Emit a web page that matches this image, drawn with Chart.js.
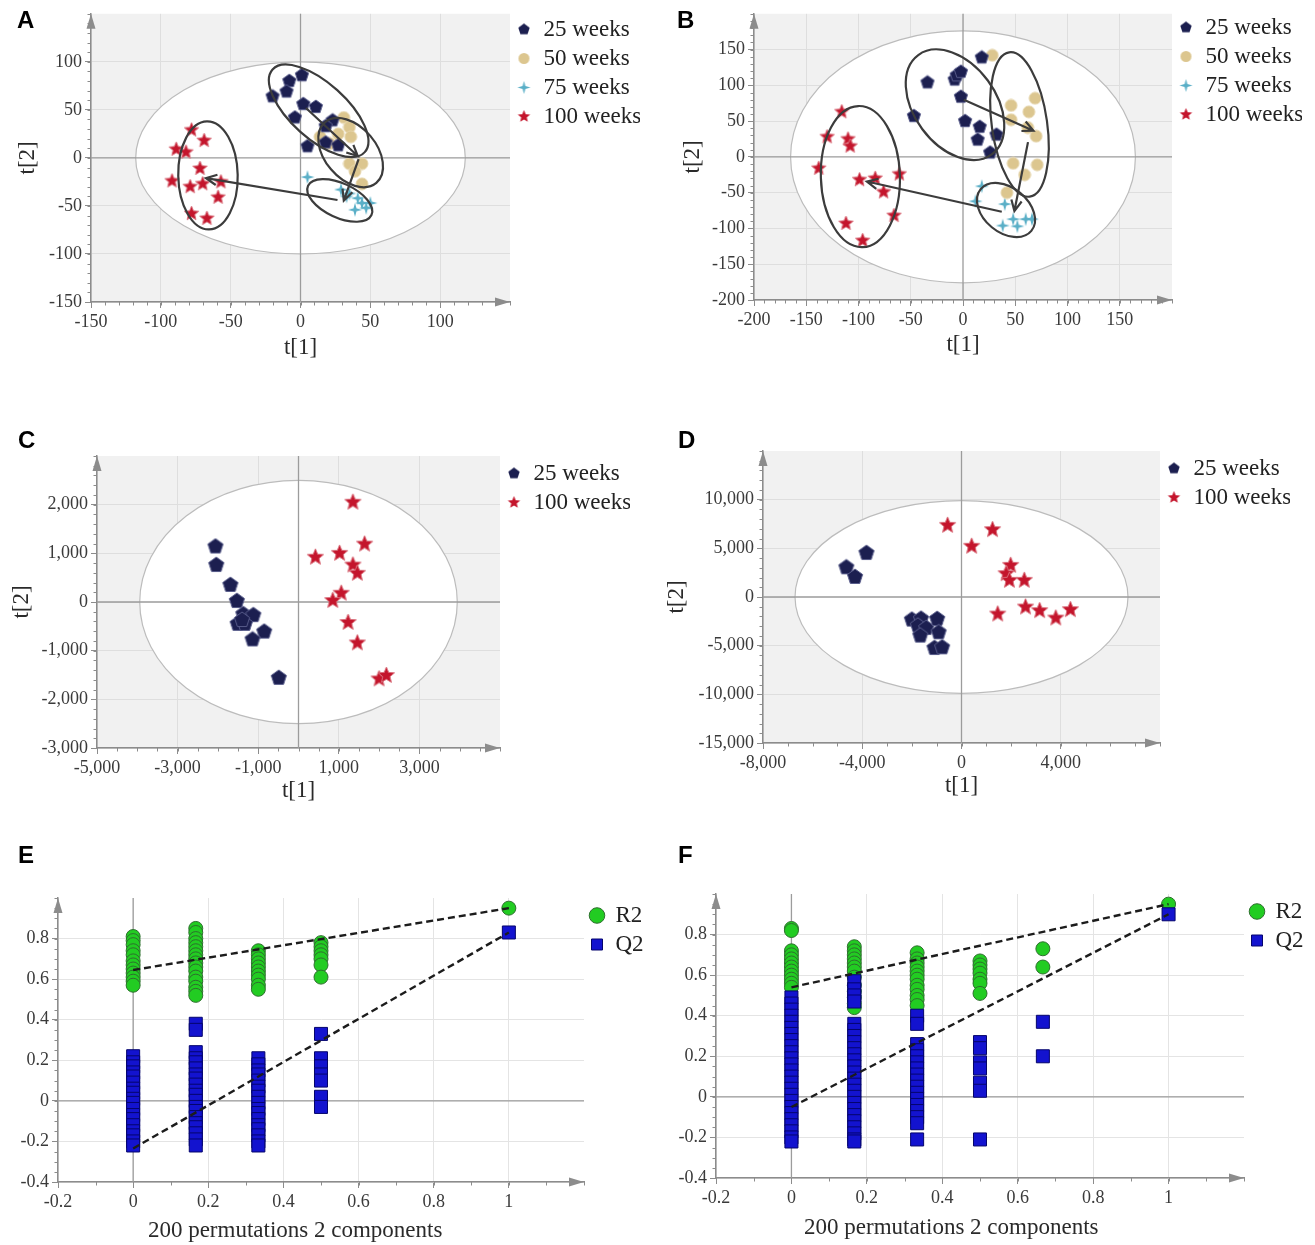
<!DOCTYPE html>
<html>
<head>
<meta charset="utf-8">
<script src="https://cdn.jsdelivr.net/npm/chart.js@4.4.1/dist/chart.umd.min.js"></script>
<style>
  body { margin: 0; background: #fff; width: 1315px; height: 1245px; position: relative; overflow: hidden; }
  .panel { position: absolute; }
  .tag { position: absolute; font: bold 24px 'Liberation Sans', Arial, sans-serif; line-height: 24px; color: #000; }
</style>
</head>
<body>
<div class="panel" style="left:0;top:0;width:660px;height:370px"><canvas id="chartA"></canvas></div>
<div class="panel" style="left:660px;top:0;width:655px;height:370px"><canvas id="chartB"></canvas></div>
<div class="panel" style="left:0;top:420px;width:660px;height:390px"><canvas id="chartC"></canvas></div>
<div class="panel" style="left:660px;top:420px;width:655px;height:390px"><canvas id="chartD"></canvas></div>
<div class="panel" style="left:0;top:840px;width:660px;height:405px"><canvas id="chartE"></canvas></div>
<div class="panel" style="left:660px;top:840px;width:655px;height:405px"><canvas id="chartF"></canvas></div>
<div class="tag" style="left:17px;top:8px">A</div>
<div class="tag" style="left:677px;top:8px">B</div>
<div class="tag" style="left:18px;top:428px">C</div>
<div class="tag" style="left:678px;top:428px">D</div>
<div class="tag" style="left:18px;top:843px">E</div>
<div class="tag" style="left:678px;top:843px">F</div>

<script>
// ---- data: score plots (t[1], t[2]) ----
const groups4 = ['25 weeks', '50 weeks', '75 weeks', '100 weeks'];
const groups2 = ['25 weeks', '100 weeks'];

const a25x = [-20, -8, -10, 1, 2, 11, -4, 23, 18, 5, 18, 27];
const a25y = [64, 80, 69, 86, 56, 53, 42, 39, 33, 12, 16, 13];
const a50x = [31, 35, 36, 27, 14, 21, 35, 44, 44, 39];
const a50y = [42, 32, 22, 25, 22, 15, -6, -6, -27, -14];
const a75x = [5, 29, 35, 41, 39, 47, 44, 50, 33];
const a75y = [-20, -33, -37, -42, -54, -52, -47, -47, -40];
const a100x = [-78, -69, -89, -82, -72, -92, -79, -70, -57, -59, -78, -67];
const a100y = [29, 18, 9, 6, -11, -24, -30, -27, -25, -41, -58, -63];

const b25x = [18, -34, -8, -6, -2, -2, -47, 2, 16, 14, 32, 26];
const b25y = [139, 104, 108, 114, 119, 84, 57, 50, 42, 24, 31, 6];
const b50x = [28, 46, 69, 63, 46, 62, 70, 48, 71, 59, 42];
const b50y = [142, 72, 82, 63, 52, 41, 29, -9, -11, -25, -50];
const b75x = [18, 12, 40, 48, 60, 38, 52, 66];
const b75y = [-41, -62, -66, -87, -87, -96, -97, -87];
const b100x = [-116, -130, -110, -108, -138, -61, -99, -84, -76, -66, -112, -96];
const b100y = [63, 28, 25, 15, -16, -24, -32, -30, -49, -82, -93, -117];

const c25x = [-2060, -2040, -1690, -1530, -1370, -1120, -1510, -1330, -1400, -850, -1140, -490];
const c25y = [1140, 760, 350, 20, -250, -270, -450, -450, -370, -610, -770, -1560];
const c100x = [1350, 420, 1020, 1640, 1350, 1460, 1060, 850, 1230, 1460, 2000, 2180];
const c100y = [2050, 920, 1000, 1190, 760, 590, 180, 30, -420, -840, -1580, -1510];

const d25x = [-3830, -4640, -4290, -2000, -1630, -1760, -1420, -1660, -980, -920, -1090, -780];
const d25y = [4520, 3050, 2060, -2330, -2230, -2950, -3190, -3970, -2260, -3630, -5240, -5170];
const d100x = [-560, 1250, 410, 1980, 1800, 1930, 2530, 2580, 3150, 1460, 3800, 4390];
const d100y = [7360, 6920, 5210, 3250, 2400, 1710, 1710, -1030, -1400, -1750, -2160, -1300];

// Hotelling T2 ellipse semi-axes (t[1], t[2])
const aT2 = [118, 100];
const bT2 = [165, 176];
const cT2 = [3940, 2500];
const dT2 = [6710, 9900];

// hand-drawn group rings: major-axis ends (data units) and minor/major ratio
const aRings = [[[-20, 92], [46, 6], 0.45], [[17.5, 37], [54.3, -26], 0.65], [[5.4, -29], [50.8, -59.5], 0.49], [[-67, 38], [-65.5, -74.5], 0.55]];
const aArrows = [[[3.9, 52], [41, 2]], [[41.6, -1.4], [31, -44.5]], [[26.5, -43.8], [-67.7, -21]]];
const bRings = [[[-42.8, 142.4], [27.5, 3.4], 0.66], [[44.2, 146.2], [63.9, -55.5], 0.38], [[16.9, -45.1], [65.4, -103.4], 0.68], [[-100.2, 71.1], [-96.2, -126.1], 0.56]];
const bArrows = [[[0.8, 80], [67.4, 36.7]], [[62.2, 20.6], [49.2, -75.7]], [[37.1, -76.6], [-92, -34.4]]];

// tick labels
const aTicks = [-150, -100, -50, 0, 50, 100];
const bTicks = [-200, -150, -100, -50, 0, 50, 100, 150];
const cTicksX = [-5000, -3000, -1000, 1000, 3000];
const cTicksY = [-3000, -2000, -1000, 0, 1000, 2000];
const dTicksX = [-8000, -4000, 0, 4000];
const dTicksY = [-15000, -10000, -5000, 0, 5000, 10000];
const permTicksX = [-0.2, 0, 0.2, 0.4, 0.6, 0.8, 1];
const permTicksY = [-0.4, -0.2, 0, 0.2, 0.4, 0.6, 0.8];

// ---- data: permutation tests (one column per correlation value) ----
const permX = [0, 0.1667, 0.3333, 0.5, 0.6667, 1];
const eR2 = [
  [0.81, 0.79, 0.77, 0.74, 0.72, 0.69, 0.67, 0.65, 0.63, 0.61, 0.59, 0.57],
  [0.85, 0.83, 0.80, 0.78, 0.76, 0.74, 0.72, 0.70, 0.68, 0.66, 0.64, 0.61, 0.59, 0.56, 0.54, 0.52],
  [0.74, 0.72, 0.70, 0.68, 0.66, 0.64, 0.62, 0.60, 0.57, 0.55],
  [0.78, 0.76, 0.74, 0.72, 0.70, 0.67, 0.61],
  [],
  [0.95]
];
const eQ2 = [
  [0.22, 0.19, 0.17, 0.14, 0.12, 0.09, 0.06, 0.04, 0.01, -0.01, -0.04, -0.07, -0.09, -0.12, -0.15, -0.17, -0.20, -0.22],
  [0.38, 0.35, 0.24, 0.21, 0.19, 0.16, 0.13, 0.11, 0.08, 0.05, 0.03, 0.00, -0.03, -0.05, -0.08, -0.11, -0.13, -0.16, -0.19, -0.22],
  [0.21, 0.18, 0.15, 0.13, 0.10, 0.07, 0.05, 0.02, -0.01, -0.04, -0.06, -0.09, -0.12, -0.14, -0.17, -0.20, -0.22],
  [0.33, 0.21, 0.17, 0.13, 0.10, 0.02, -0.03],
  [],
  [0.83]
];
const fR2 = [
  [0.83, 0.82, 0.72, 0.70, 0.68, 0.66, 0.64, 0.62, 0.60, 0.58, 0.56, 0.54],
  [0.74, 0.72, 0.70, 0.68, 0.66, 0.64, 0.62, 0.59, 0.55, 0.52, 0.49, 0.46, 0.44],
  [0.71, 0.68, 0.66, 0.64, 0.62, 0.60, 0.58, 0.55, 0.53, 0.50, 0.48, 0.45],
  [0.67, 0.65, 0.63, 0.61, 0.58, 0.56, 0.51],
  [0.73, 0.64],
  [0.95]
];
const fQ2 = [
  [0.49, 0.46, 0.43, 0.40, 0.37, 0.34, 0.31, 0.28, 0.25, 0.22, 0.19, 0.16, 0.13, 0.10, 0.07, 0.04, 0.01, -0.02, -0.05, -0.08, -0.11, -0.14, -0.17, -0.20, -0.22],
  [0.57, 0.53, 0.50, 0.47, 0.36, 0.33, 0.30, 0.27, 0.24, 0.21, 0.18, 0.15, 0.12, 0.09, 0.06, 0.03, 0.00, -0.03, -0.06, -0.09, -0.12, -0.15, -0.18, -0.21, -0.22],
  [0.40, 0.36, 0.26, 0.23, 0.20, 0.17, 0.14, 0.11, 0.08, 0.05, 0.02, -0.01, -0.04, -0.07, -0.10, -0.13, -0.21],
  [0.27, 0.24, 0.17, 0.14, 0.07, 0.03, -0.21],
  [0.37, 0.20],
  [0.90]
];
// regression lines, values at x = 0 and x = 1
const fitX = [0, 1];
const eR2Fit = [0.645, 0.95];
const eQ2Fit = [-0.235, 0.83];
const fR2Fit = [0.54, 0.95];
const fQ2Fit = [-0.05, 0.90];

// ---- styles ----
const serif = "'Liberation Serif', 'Times New Roman', serif";
Chart.defaults.font.family = serif;
Chart.defaults.color = '#333';

function mark(shape, d, fill, edge) {
  const c = document.createElement('canvas');
  c.width = c.height = d + 2;
  const g = c.getContext('2d');
  const m = c.width / 2, r = d / 2;
  g.beginPath();
  if (shape === 'pentagon') {
    for (let i = 0; i < 5; i++) {
      const t = -Math.PI / 2 + i * 2 * Math.PI / 5;
      g.lineTo(m + r * Math.cos(t), m + r * Math.sin(t));
    }
  } else if (shape === 'star5' || shape === 'star4') {
    const n = shape === 'star5' ? 5 : 4, inner = shape === 'star5' ? 0.45 : 0.3;
    for (let i = 0; i < n * 2; i++) {
      const rr = i % 2 ? r * inner : r;
      const t = -Math.PI / 2 + i * Math.PI / n;
      g.lineTo(m + rr * Math.cos(t), m + rr * Math.sin(t));
    }
  } else {
    g.arc(m, m, r, 0, Math.PI * 2);
  }
  g.closePath();
  g.fillStyle = fill;
  g.fill();
  if (edge) { g.lineWidth = 1; g.strokeStyle = edge; g.stroke(); }
  return c;
}

const NAVY = '#1c1f50', TAN = '#dcc68f', TEAL = '#5aafc7', RED = '#c4152c';
const markers = {
  small: [mark('pentagon', 14, NAVY, '#5a5e8c'), mark('circle', 12, TAN, '#e6d6ae'), mark('star4', 14, TEAL), mark('star5', 15, RED, '#d9707c')],
  big: [mark('pentagon', 16, NAVY, '#5a5e8c'), null, null, mark('star5', 17, RED, '#d9707c')],
  legend: [mark('pentagon', 12, NAVY), mark('circle', 11, TAN), mark('star4', 13, TEAL), mark('star5', 13, RED)]
};

function pts(xs, ys) { return xs.map((v, i) => ({ x: v, y: ys[i] })); }
function cols(xs, columns) {
  const out = [];
  columns.forEach((c, i) => c.forEach(v => out.push({ x: xs[i], y: v })));
  return out;
}

function groupSet(label, data, img, legendImg) {
  return { label, data, pointStyle: img, pointRadius: 7, legendMark: legendImg, backgroundColor: '#000', borderColor: '#000' };
}

function permSets(r2, q2, r2Fit, q2Fit) {
  const line = ys => ({
    label: 'fit', data: pts(fitX, ys), showLine: true, borderDash: [7, 4], borderColor: '#1c1c1c',
    borderWidth: 2.4, pointRadius: 0, noLegend: true, order: 0
  });
  return [
    { label: 'R2', data: cols(permX, r2), pointStyle: 'circle', pointRadius: 7, backgroundColor: '#22cc22', borderColor: '#2e6e2e', borderWidth: 1, order: 2 },
    { label: 'Q2', data: cols(permX, q2), pointStyle: 'rect', pointRadius: 9.2, backgroundColor: '#1313cf', borderColor: '#05056c', borderWidth: 1, order: 1 },
    line(r2Fit),
    line(q2Fit)
  ];
}

// grey background, T2 ellipse, zero lines, group rings, arrows, minor ticks
const simca = {
  id: 'simca',
  beforeDraw(chart, args, o) {
    if (!o.bg) return;
    const { ctx, chartArea: a } = chart;
    ctx.save();
    ctx.fillStyle = o.bg;
    ctx.fillRect(a.left, a.top, a.right - a.left, a.bottom - a.top);
    ctx.restore();
  },
  beforeDatasetsDraw(chart, args, o) {
    const { ctx, chartArea: a, scales: { x, y } } = chart;
    const x0 = x.getPixelForValue(0), y0 = y.getPixelForValue(0);
    ctx.save();
    if (o.t2) {
      ctx.beginPath();
      ctx.ellipse(x0, y0, x.getPixelForValue(o.t2[0]) - x0, y0 - y.getPixelForValue(o.t2[1]), 0, 0, Math.PI * 2);
      ctx.fillStyle = '#fff';
      ctx.fill();
      ctx.lineWidth = 1.2;
      ctx.strokeStyle = '#bcbcbc';
      ctx.stroke();
    }
    ctx.beginPath();
    ctx.moveTo(x0, a.top); ctx.lineTo(x0, a.bottom);
    ctx.moveTo(a.left, y0); ctx.lineTo(a.right, y0);
    ctx.lineWidth = 1.3;
    ctx.strokeStyle = '#9c9c9c';
    ctx.stroke();
    ctx.restore();
  },
  afterDatasetsDraw(chart, args, o) {
    const { ctx, scales: { x, y } } = chart;
    const px = p => [x.getPixelForValue(p[0]), y.getPixelForValue(p[1])];
    ctx.save();
    ctx.strokeStyle = '#3c3c3c';
    ctx.lineWidth = 2.2;
    (o.rings || []).forEach(([p, q, k]) => {
      const [x1, y1] = px(p), [x2, y2] = px(q);
      const r = Math.hypot(x2 - x1, y2 - y1) / 2;
      ctx.beginPath();
      ctx.ellipse((x1 + x2) / 2, (y1 + y2) / 2, r, r * k, Math.atan2(y2 - y1, x2 - x1), 0, Math.PI * 2);
      ctx.stroke();
    });
    (o.arrows || []).forEach(([p, q]) => {
      const [x1, y1] = px(p), [x2, y2] = px(q);
      const t = Math.atan2(y2 - y1, x2 - x1);
      ctx.beginPath();
      ctx.moveTo(x1, y1); ctx.lineTo(x2, y2);
      ctx.moveTo(x2 - 12 * Math.cos(t - 0.45), y2 - 12 * Math.sin(t - 0.45));
      ctx.lineTo(x2, y2);
      ctx.lineTo(x2 - 12 * Math.cos(t + 0.45), y2 - 12 * Math.sin(t + 0.45));
      ctx.stroke();
    });
    ctx.restore();
  },
  afterDraw(chart, args, o) {
    const { ctx, chartArea: a, scales: { x, y } } = chart;
    ctx.save();
    ctx.strokeStyle = '#8c8c8c';
    ctx.lineWidth = 1;
    ctx.beginPath();
    for (let v = x.min; v <= x.max + 1e-9; v += o.minor[0]) {
      const p = Math.round(x.getPixelForValue(v)) + 0.5;
      ctx.moveTo(p, a.bottom); ctx.lineTo(p, a.bottom + 3.5);
    }
    for (let v = y.min; v <= y.max + 1e-9; v += o.minor[1]) {
      const p = Math.round(y.getPixelForValue(v)) + 0.5;
      ctx.moveTo(a.left, p); ctx.lineTo(a.left - 3.5, p);
    }
    ctx.stroke();
    // axis arrow heads
    ctx.fillStyle = '#8c8c8c';
    ctx.beginPath();
    ctx.moveTo(a.left, a.top); ctx.lineTo(a.left - 4.5, a.top + 15); ctx.lineTo(a.left + 4.5, a.top + 15);
    ctx.closePath(); ctx.fill();
    ctx.beginPath();
    ctx.moveTo(a.right, a.bottom); ctx.lineTo(a.right - 15, a.bottom - 4.5); ctx.lineTo(a.right - 15, a.bottom + 4.5);
    ctx.closePath(); ctx.fill();
    ctx.restore();
  }
};

function axisOpts(range, ticks, fmt, size, horiz, title, titlePad, grid) {
  return {
    type: 'linear', min: range[0], max: range[1],
    afterBuildTicks: s => { s.ticks = ticks.map(v => ({ value: v })); },
    afterFit: s => { if (horiz) s.height = size; else s.width = size; },
    grid: { color: grid, tickColor: '#8c8c8c', tickLength: 6, lineWidth: 1 },
    border: { color: '#8c8c8c', width: 1.5 },
    ticks: { font: { size: 18 }, color: '#3a3a3a', padding: 3, autoSkip: false, maxRotation: 0, callback: fmt },
    title: { display: !!title, text: title, font: { size: 23 }, color: '#2a2a2a', padding: titlePad }
  };
}

function buildPanel(id, s) {
  return new Chart(document.getElementById(id), {
    type: 'scatter',
    data: { datasets: s.datasets },
    options: {
      responsive: true, maintainAspectRatio: false, animation: false, events: [],
      layout: { padding: { top: s.pad[0], right: s.pad[1], bottom: 0, left: 0 } },
      scales: {
        x: axisOpts(s.xRange, s.xTicks, s.fmt, s.xH, true, s.xTitle, { top: 0, bottom: s.xTitlePad }, s.grid),
        y: axisOpts(s.yRange, s.yTicks, s.fmt, s.yW, false, s.yTitle, { top: s.yTitlePad, bottom: 0 }, s.grid)
      },
      plugins: {
        tooltip: { enabled: false },
        legend: {
          position: 'right', align: 'start', maxWidth: s.legendW,
          labels: {
            usePointStyle: true, boxWidth: s.boxW, boxHeight: 11, padding: 6, color: '#222', font: { size: 23 },
            sort: (p, q) => p.datasetIndex - q.datasetIndex,
            filter: (it, data) => !data.datasets[it.datasetIndex].noLegend,
            generateLabels: chart => {
              const items = Chart.defaults.plugins.legend.labels.generateLabels(chart);
              items.forEach(it => {
                const ds = chart.data.datasets[it.datasetIndex];
                if (ds.legendMark) it.pointStyle = ds.legendMark;
              });
              return items;
            }
          }
        },
        simca: { bg: s.bg, t2: s.t2, rings: s.rings, arrows: s.arrows, minor: s.minor }
      }
    },
    plugins: [simca]
  });
}

const plain = v => String(v);
const comma = v => v.toLocaleString('en-US');
const M = markers;

buildPanel('chartA', {
  datasets: [
    groupSet(groups4[0], pts(a25x, a25y), M.small[0], M.legend[0]),
    groupSet(groups4[1], pts(a50x, a50y), M.small[1], M.legend[1]),
    groupSet(groups4[2], pts(a75x, a75y), M.small[2], M.legend[2]),
    groupSet(groups4[3], pts(a100x, a100y), M.small[3], M.legend[3])
  ],
  xRange: [-150, 150], yRange: [-150, 150], xTicks: aTicks, yTicks: aTicks, fmt: plain,
  xH: 68, yW: 91, pad: [12, 20], legendW: 130, boxW: 16,
  xTitle: 't[1]', xTitlePad: 8, yTitle: 't[2]', yTitlePad: 14,
  grid: '#dedede', bg: '#f1f1f1', t2: aT2, rings: aRings, arrows: aArrows, minor: [10, 10]
});

buildPanel('chartB', {
  datasets: [
    groupSet(groups4[0], pts(b25x, b25y), M.small[0], M.legend[0]),
    groupSet(groups4[1], pts(b50x, b50y), M.small[1], M.legend[1]),
    groupSet(groups4[2], pts(b75x, b75y), M.small[2], M.legend[2]),
    groupSet(groups4[3], pts(b100x, b100y), M.small[3], M.legend[3])
  ],
  xRange: [-200, 200], yRange: [-200, 200], xTicks: bTicks, yTicks: bTicks, fmt: plain,
  xH: 70, yW: 94, pad: [10, 13], legendW: 130, boxW: 16,
  xTitle: 't[1]', xTitlePad: 11, yTitle: 't[2]', yTitlePad: 19,
  grid: '#dedede', bg: '#f1f1f1', t2: bT2, rings: bRings, arrows: bArrows, minor: [10, 10]
});

buildPanel('chartC', {
  datasets: [
    groupSet(groups2[0], pts(c25x, c25y), M.big[0], M.legend[0]),
    groupSet(groups2[1], pts(c100x, c100y), M.big[3], M.legend[3])
  ],
  xRange: [-5000, 5000], yRange: [-3000, 3000], xTicks: cTicksX, yTicks: cTicksY, fmt: comma,
  xH: 62, yW: 97, pad: [36, 30], legendW: 130, boxW: 16,
  xTitle: 't[1]', xTitlePad: 5, yTitle: 't[2]', yTitlePad: 8,
  grid: '#dedede', bg: '#f1f1f1', t2: cT2, minor: [500, 200]
});

buildPanel('chartD', {
  datasets: [
    groupSet(groups2[0], pts(d25x, d25y), M.big[0], M.legend[0]),
    groupSet(groups2[1], pts(d100x, d100y), M.big[3], M.legend[3])
  ],
  xRange: [-8000, 8000], yRange: [-15000, 15000], xTicks: dTicksX, yTicks: dTicksY, fmt: comma,
  xH: 67, yW: 103, pad: [31, 25], legendW: 130, boxW: 16,
  xTitle: 't[1]', xTitlePad: 10, yTitle: 't[2]', yTitlePad: 3,
  grid: '#dedede', bg: '#f1f1f1', t2: dT2, minor: [1000, 1000]
});

buildPanel('chartE', {
  datasets: permSets(eR2, eQ2, eR2Fit, eQ2Fit),
  xRange: [-0.2, 1.2], yRange: [-0.4, 1.0], xTicks: permTicksX, yTicks: permTicksY, fmt: plain,
  xH: 63, yW: 58, pad: [58, 16], legendW: 60, boxW: 14,
  xTitle: '200 permutations 2 components         ', xTitlePad: 0,
  grid: '#e4e4e4', minor: [0.1, 0.05]
});

buildPanel('chartF', {
  datasets: permSets(fR2, fQ2, fR2Fit, fQ2Fit),
  xRange: [-0.2, 1.2], yRange: [-0.4, 1.0], xTicks: permTicksX, yTicks: permTicksY, fmt: plain,
  xH: 67, yW: 56, pad: [54, 11], legendW: 60, boxW: 14,
  xTitle: '200 permutations 2 components          ', xTitlePad: 3,
  grid: '#e4e4e4', minor: [0.1, 0.05]
});
</script>
</body>
</html>
